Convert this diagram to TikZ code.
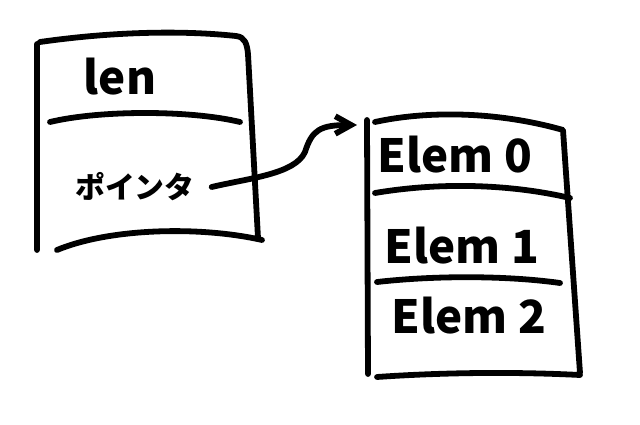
\documentclass[tikz,border=0pt]{standalone}
\usepackage{fontspec}
\setmainfont{Noto Sans CJK JP}
\usetikzlibrary{arrows.meta}
% left box (struct)
\def\structleft{(37,250) -- (37,44)}
\def\structtop{(40,42) .. controls (110,32) and (180,30) .. (236,36) .. controls (245,37) and (247,44) .. (248,54) -- (258,238)}
\def\structmid{(50,122) .. controls (100,110) and (190,110) .. (240,122)}
\def\structbottom{(57,250) .. controls (110,228) and (200,226) .. (262,240)}
% right box (array)
\def\arrayleft{(367,120) -- (368,374)}
\def\arraytop{(375,122) .. controls (430,110) and (500,112) .. (563,130) -- (580,373)}
\def\arraymidA{(375,193) .. controls (440,182) and (510,184) .. (570,198)}
\def\arraymidB{(377,282) .. controls (440,275) and (510,276) .. (560,283)}
\def\arraybottom{(377,377) .. controls (450,372) and (520,372) .. (580,375)}
\begin{document}
\begin{tikzpicture}[x=0.02cm,y=-0.02cm,
  line width=3.3pt,line cap=round,line join=round,
  lbl/.style={inner sep=0pt,font=\bfseries\fontsize{26}{28}\selectfont}]
\useasboundingbox (0,0) rectangle (640,425);
\draw \structleft \structtop \structmid \structbottom;
\draw \arrayleft \arraytop \arraymidA \arraymidB \arraybottom;
\node[lbl] (len) at (120,77) {len};
\node[lbl,font=\bfseries\fontsize{17}{19}\selectfont,inner xsep=8pt] (ptr) at (135,187) {ポインタ};
\node[lbl] (elem0) at (455,155) {Elem 0};
\node[lbl] (elem1) at (462,246) {Elem 1};
\node[lbl] (elem2) at (469,316) {Elem 2};
\coordinate (head) at (357,125);
\draw[-{Straight Barb[length=9pt,width=10pt]}] (ptr.east) .. controls (250,178) and (295,174) .. (305,152)
  .. controls (312,130) and (320,125) .. (head);
\end{tikzpicture}
\end{document}
